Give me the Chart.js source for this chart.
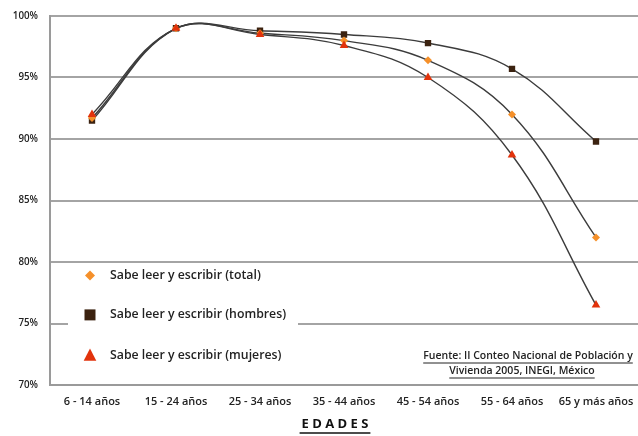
<!DOCTYPE html>
<html>
<head>
<meta charset="utf-8">
<script src="https://cdn.jsdelivr.net/npm/chart.js@4"></script>
<style>
  html, body { margin: 0; padding: 0; background: #fff; }
  #wrap { width: 638px; height: 436px; position: relative; }
</style>
</head>
<body>
<div id="wrap"><canvas id="c" width="638" height="436"></canvas></div>
<script>
// Población que sabe leer y escribir por grupo de edad (%)
const edades = ['6 - 14 años', '15 - 24 años', '25 - 34 años', '35 - 44 años', '45 - 54 años', '55 - 64 años', '65 y más años'];
const total    = [91.7, 99.0, 98.6, 98.0, 96.4, 92.0, 82.0];
const hombres  = [91.5, 99.0, 98.8, 98.5, 97.8, 95.7, 89.8];
const mujeres  = [92.0, 99.0, 98.5, 97.6, 95.0, 88.7, 76.5];
const yTicks   = [70, 75, 80, 85, 90, 95, 100];
const serieNombres = ['Sabe leer y escribir (total)', 'Sabe leer y escribir (hombres)', 'Sabe leer y escribir (mujeres)'];
const fuente = ['Fuente: II Conteo Nacional de Población y', 'Vivienda 2005, INEGI, México'];
const tituloX = 'E D A D E S';

const FONT = '"Open Sans", "DejaVu Sans", sans-serif';
const colores = { total: '#f5902a', hombres: '#3b2210', mujeres: '#e2330c' };

// Leyenda propia dentro del área de trazado y notas de texto
const extras = {
  id: 'extras',
  afterDatasetsDraw(chart) {
    const ctx = chart.ctx;
    const y = chart.scales.y;
    ctx.save();
    // caja blanca de la leyenda
    ctx.fillStyle = '#fff';
    ctx.fillRect(68, y.getPixelForValue(79.3), 230, y.getPixelForValue(71) - y.getPixelForValue(79.3));

    const items = [
      { style: 'rectRot', color: colores.total, r: 5, yv: 78.9 },
      { style: 'rect', color: colores.hombres, r: 6, yv: 75.7 },
      { style: 'triangle', color: colores.mujeres, r: 7, yv: 72.4 }
    ];
    ctx.font = '600 12.3px ' + FONT;
    ctx.textBaseline = 'middle';
    items.forEach((it, i) => {
      const py = y.getPixelForValue(it.yv);
      ctx.fillStyle = it.color;
      ctx.beginPath();
      if (it.style === 'rectRot') {
        ctx.moveTo(90, py - it.r); ctx.lineTo(90 + it.r, py); ctx.lineTo(90, py + it.r); ctx.lineTo(90 - it.r, py);
      } else if (it.style === 'rect') {
        ctx.rect(90 - it.r + 0.5, py - it.r + 0.5, 2 * it.r - 1, 2 * it.r - 1);
      } else {
        ctx.moveTo(90, py - it.r); ctx.lineTo(90 + it.r * 0.9, py + it.r * 0.75); ctx.lineTo(90 - it.r * 0.9, py + it.r * 0.75);
      }
      ctx.closePath();
      ctx.fill();
      ctx.fillStyle = '#222';
      ctx.textAlign = 'left';
      ctx.fillText(serieNombres[i], 110, py);
    });

    // fuente subrayada
    ctx.font = '600 10.5px ' + FONT;
    ctx.textAlign = 'center';
    ctx.fillStyle = '#222';
    ctx.strokeStyle = '#222';
    ctx.lineWidth = 1;
    const lineas = [{ cx: 528, ty: 356 }, { cx: 522, ty: 371 }];
    lineas.forEach((l, i) => {
      ctx.fillText(fuente[i], l.cx, l.ty);
      const w = ctx.measureText(fuente[i]).width;
      ctx.beginPath();
      ctx.moveTo(l.cx - w / 2, l.ty + 7);
      ctx.lineTo(l.cx + w / 2, l.ty + 7);
      ctx.stroke();
    });

    // título del eje X
    ctx.font = 'bold 13px ' + FONT;
    ctx.fillStyle = '#111';
    ctx.fillText(tituloX, 335, 424);
    const tw = ctx.measureText(tituloX).width;
    ctx.lineWidth = 1.5;
    ctx.strokeStyle = '#111';
    ctx.beginPath();
    ctx.moveTo(335 - tw / 2 - 2, 433);
    ctx.lineTo(335 + tw / 2 + 2, 433);
    ctx.stroke();
    ctx.restore();
  }
};

const lineaComun = {
  borderColor: '#3c3c3c',
  borderWidth: 1.4,
  tension: 0.4,
  fill: false,
  pointBorderWidth: 0
};

new Chart(document.getElementById('c'), {
  type: 'line',
  data: {
    labels: edades,
    datasets: [
      Object.assign({}, lineaComun, { label: serieNombres[0], data: total, pointStyle: 'rectRot', pointRadius: 4, pointBackgroundColor: colores.total, pointBorderColor: colores.total, order: 2 }),
      Object.assign({}, lineaComun, { label: serieNombres[1], data: hombres, pointStyle: 'rect', pointRadius: 4.5, pointBackgroundColor: colores.hombres, pointBorderColor: colores.hombres, order: 3 }),
      Object.assign({}, lineaComun, { label: serieNombres[2], data: mujeres, pointStyle: 'triangle', pointRadius: 5, pointBackgroundColor: colores.mujeres, pointBorderColor: colores.mujeres, order: 1 })
    ]
  },
  options: {
    responsive: false,
    animation: false,
    layout: { autoPadding: false, padding: { top: 16, right: 0, left: 0, bottom: 0 } },
    plugins: { legend: { display: false }, tooltip: { enabled: false } },
    scales: {
      x: {
        offset: true,
        grid: { display: false, drawTicks: false },
        border: { display: true, color: '#9a9a9a', width: 2 },
        ticks: { color: '#222', font: { family: FONT, size: 11, weight: '600' }, padding: 10, maxRotation: 0, autoSkip: false },
        afterFit(s) { s.height = 51; s.paddingRight = 0; s.paddingLeft = 0; }
      },
      y: {
        min: 70, max: 100,
        afterBuildTicks(s) { s.ticks = yTicks.map(v => ({ value: v })); },
        grid: { color: '#a4a4a4', lineWidth: 2, drawTicks: false },
        border: { display: true, color: '#9a9a9a', width: 2 },
        ticks: { color: '#222', font: { family: FONT, size: 9.75, weight: '600' }, padding: 12, callback: v => v + '%' },
        afterFit(s) { s.width = 50; s.paddingTop = 0; s.paddingBottom = 0; }
      }
    }
  },
  plugins: [extras]
});
</script>
</body>
</html>
